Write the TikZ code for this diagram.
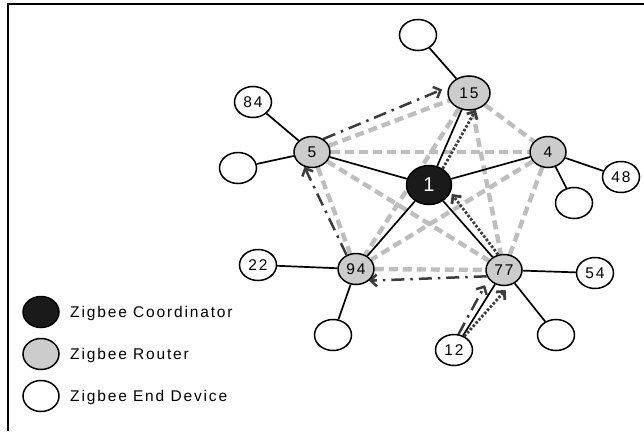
\documentclass[tikz,border=0pt]{standalone}
\usepackage{xcolor}
\usepackage{fontspec}
\setmainfont[LetterSpace=12]{Liberation Sans}
\usepackage{tikz}
\usetikzlibrary{shapes, arrows.meta, positioning, backgrounds}

\definecolor{routergray}{RGB}{204,204,204}
\definecolor{meshgray}{RGB}{190,190,190}
\definecolor{arrowgray}{RGB}{60,60,60}
\definecolor{coordblack}{RGB}{26,26,26}

\begin{document}
\begin{tikzpicture}[
                x = 1pt, y = -1pt,
                every node/.style={font=\fontsize{15.5}{18}\selectfont, inner sep=0pt},
                coordinator/.style={ellipse, draw, line width=1.5pt, fill=coordblack, text=white, minimum width=45pt, minimum height=39pt, font=\fontsize{20}{22}\selectfont},
                router/.style={ellipse, draw, line width=1.5pt, fill=routergray, minimum width=36pt, minimum height=31pt},
                enddevice/.style={ellipse, draw, line width=1.5pt, fill=white, minimum width=37pt, minimum height=31pt},
                legendtext/.style={anchor=base west},
                link/.style={line width=1.7pt},
                meshline/.style={line width=4.4pt, meshgray, dash pattern=on 9pt off 5pt},
                dashroute/.style={line width=2.5pt, arrowgray, dash pattern=on 13pt off 6pt on 2.5pt off 6pt, -{Straight Barb[length=6pt, width=12pt]}},
                dotroute/.style={line width=2.8pt, arrowgray, dash pattern=on 2.5pt off 1.8pt, -{Straight Barb[length=6pt, width=12pt]}}
            ]
            \useasboundingbox (0,0) rectangle (644,431);
            \draw[line width=1.6pt] (8,431) -- (8,4) -- (644,4);

            \node[coordinator] (c1) at (429,185) {1};
            \node[router, minimum width=42pt, minimum height=34pt] (r15) at (469,93) {15};
            \node[router] (r4) at (548,152) {4};
            \node[router] (r5) at (312,152) {5};
            \node[router] (r94) at (356,269) {94};
            \node[router] (r77) at (504,270) {77};

            \node[enddevice, on grid, above left=58pt and 51pt of r15] (e15) {};
            \node[enddevice, on grid, above left=50pt and 59pt of r5] (n84) {84};
            \node[enddevice, on grid, below left=16pt and 74pt of r5] (e5) {};
            \node[enddevice, on grid, below right=25pt and 73pt of r4] (n48) {48};
            \node[enddevice, on grid, below right=51pt and 26pt of r4] (e4) {};
            \node[enddevice, on grid, above left=4pt and 98pt of r94] (n22) {22};
            \node[enddevice, on grid, below left=66pt and 23pt of r94] (e94) {};
            \node[enddevice, on grid, below right=3pt and 91pt of r77] (n54) {54};
            \node[enddevice, on grid, below right=65pt and 52pt of r77] (e77) {};
            \node[enddevice, on grid, below left=80pt and 50pt of r77] (n12) {12};

            % legend
            \node[coordinator, minimum width=36pt, minimum height=31pt] (lc) at (41,312) {};
            \node[router] (lr) at (41,354) {};
            \node[enddevice, minimum width=36pt] (le) at (41,396) {};
            \node[legendtext] (tc) at (70,317) {Zigbee Coordinator};
            \node[legendtext] (tr) at (70,359) {Zigbee Router};
            \node[legendtext] (te) at (70,401) {Zigbee End Device};

            \begin{pgfonlayer}{background}
            % router mesh
            \draw[meshline] (r5) -- (r15);
            \draw[meshline] (r5) -- (r4);
            \draw[meshline] (r5) -- (r94);
            \draw[meshline] (r5) -- (r77);
            \draw[meshline] (r15) -- (r4);
            \draw[meshline] (r15) -- (r94);
            \draw[meshline] (r15) -- (r77);
            \draw[meshline] (r4) -- (r94);
            \draw[meshline] (r4) -- (r77);
            \draw[meshline] (r94) -- (r77);

            % tree links
            \draw[link] (c1) -- (r15);
            \draw[link] (c1) -- (r5);
            \draw[link] (c1) -- (r4);
            \draw[link] (c1) -- (r94);
            \draw[link] (c1) -- (r77);
            \draw[link] (r15) -- (e15);
            \draw[link] (r5) -- (n84);
            \draw[link] (r5) -- (e5);
            \draw[link] (r4) -- (n48);
            \draw[link] (r4) -- (e4);
            \draw[link] (r94) -- (n22);
            \draw[link] (r94) -- (e94);
            \draw[link] (r77) -- (n54);
            \draw[link] (r77) -- (e77);
            \draw[link] (r77) -- (n12);

            % routes
            \draw[dashroute, shorten >=7pt] (n12.74) -- (r77.210);
            \draw[dashroute] (r77.200) -- (r94.318);
            \draw[dashroute] (r94.124) -- (r5.243);
            \draw[dashroute, shorten >=7pt] (r5.49) -- (r15.163);
            \draw[dotroute, shorten >=6pt] (n12.53) -- (r77.290);
            \draw[dotroute, shorten >=2pt] (r77.111) -- (c1.341);
            \draw[dotroute] (c1.50) -- (r15.292);
            \end{pgfonlayer}
        \end{tikzpicture}
\end{document}
